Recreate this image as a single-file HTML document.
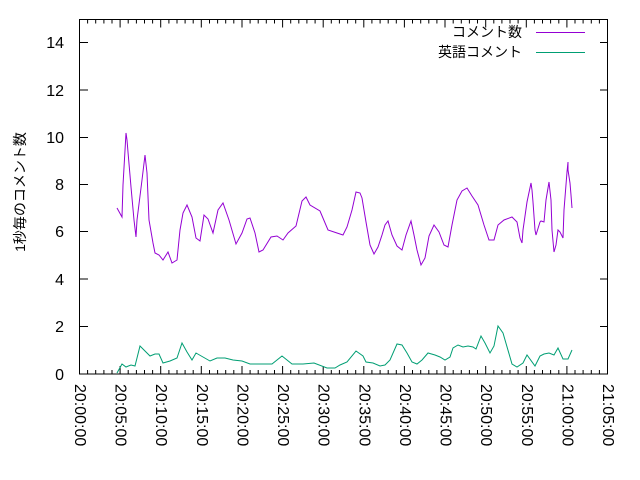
<!DOCTYPE html>
<html><head><meta charset="utf-8"><style>
html,body{margin:0;padding:0;background:#fff;}
svg{display:block;font-family:"Liberation Sans","Noto Sans CJK JP",sans-serif;}
</style></head><body>
<svg width="640" height="480" viewBox="0 0 640 480" xmlns="http://www.w3.org/2000/svg">
<rect width="640" height="480" fill="#fff"/>
<g stroke="#000" stroke-width="1" fill="none">
<rect x="79.5" y="19.5" width="528" height="354.5"/>
<path d="M80 42.5h8M600 42.5h8M80 90h8M600 90h8M80 137.5h8M600 137.5h8M80 184.5h8M600 184.5h8M80 231.5h8M600 231.5h8M80 279h8M600 279h8M80 326.5h8M600 326.5h8"/>
<path id="xt" d=""/>
</g>
<g id="xticks" stroke="#000" stroke-width="1"></g>
<g font-size="16" fill="#000" text-anchor="end">
<text x="64" y="48">14</text><text x="64" y="96">12</text><text x="64" y="143">10</text><text x="64" y="190">8</text><text x="64" y="237">6</text><text x="64" y="285">4</text><text x="64" y="332">2</text><text x="64" y="380">0</text>
</g>
<g id="xlabels" font-size="16" fill="#000"></g>
<text transform="translate(20,192) rotate(-90)" font-size="14" text-anchor="middle" dominant-baseline="central">1秒毎のコメント数</text>
<g font-size="14" text-anchor="end"><text x="522" y="37">コメント数</text><text x="522" y="57">英語コメント</text></g>
<path d="M536 32.5h49" stroke="#9400d3"/>
<path d="M536 52.5h49" stroke="#009e73"/>
<polyline fill="none" stroke="#9400d3" stroke-width="1" points="117,208 122,217 123,185 126,133 127,140 128,152 131,187 134,220 136,237 137,220 142,180 145,155 147,173 149,220 153,243 155,253 159,255 163,260 168,252 172,263 177,260 180,230 183,213 187,205 192,217 196,238 200,241 204,215 208,219 213,233 218,210 223,203 229,220 236,244 242,233 247,219 250,218 255,233 259,252 263,250 271,237 277,236 283,240 288,233 296,226 302,201 306,197 310,205 320,211 328,230 337,233 343,235 347,227 352,210 356,192 360,193 362,198 366,222 370,245 374,254 378,247 382,235 385,225 388,221 392,235 397,246 402,250 406,235 411,221 414,235 417,250 421,265 425,258 429,236 434,225 439,232 444,245 448,247 452,225 457,200 462,191 467,188 472,196 478,205 484,225 489,240 494,240 498,225 504,220 512,217 517,222 520,238 522,243 523,230 527,202 531,183 532,190 533,202 535,230 536,235 540,222 541,221 544,222 546,200 549,182 551,200 552,230 554,252 556,245 558,230 560,232 563,238 564,210 567,172 568,162 568,170 570,183 571,195 572,208"/>
<polyline fill="none" stroke="#009e73" stroke-width="1" points="117,373 122,364 126,367 131,365 135,366 140,346 150,356 155,354 159,354 163,363 170,361 177,358 182,343 187,352 192,360 196,353 203,357 210,361 217,358 225,358 233,360 242,361 250,364 260,364 272,364 282,356 292,364 303,364 314,363 327,368 335,368 340,365 347,362 356,351 363,356 366,362 373,363 380,366 385,365 390,360 397,344 402,345 407,353 412,362 417,364 422,360 428,353 435,355 440,357 445,360 450,357 453,348 458,345 463,347 468,346 473,347 476,349 481,336 485,343 490,353 494,346 498,326 503,333 512,364 517,367 523,363 527,355 535,366 540,356 544,354 549,353 554,355 558,348 563,359 568,359 572,350"/>
<script>
(function(){
var ns="http://www.w3.org/2000/svg",g=document.getElementById("xticks"),L=document.getElementById("xlabels");
var x0=79.5,w=528/65,d="";
for(var i=0;i<=65;i++){var x=x0+i*w,len=(i%5==0)?8:4;
var a=document.createElementNS(ns,"path");
a.setAttribute("d","M"+x.toFixed(1)+" 374v-"+len+"M"+x.toFixed(1)+" 19.5v"+len);g.appendChild(a);
if(i%5==0){var m=i,h=20+Math.floor(m/60),mm=m%60;
var t=document.createElementNS(ns,"text");
t.setAttribute("transform","translate("+x.toFixed(1)+",384) rotate(90)");
t.setAttribute("dominant-baseline","central");
t.textContent=h+":"+(mm<10?"0":"")+mm+":00";L.appendChild(t);}}
})();
</script>
</svg>
</body></html>
